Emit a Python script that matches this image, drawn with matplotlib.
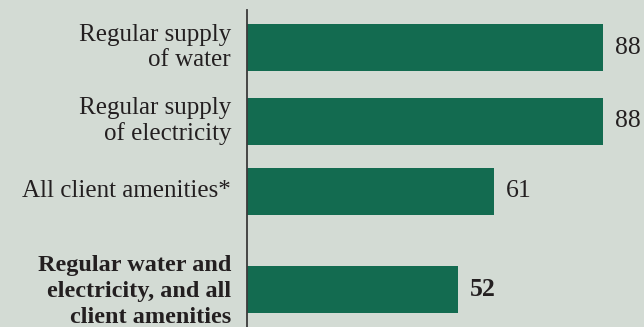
import matplotlib
matplotlib.use("Agg")
import matplotlib.pyplot as plt

# Share of facilities (%) meeting each condition
categories = [
    "Regular supply\nof water",
    "Regular supply\nof electricity",
    "All client amenities*",
    "Regular water and\nelectricity, and all\nclient amenities",
]
values = [88, 88, 61, 52]
value_labels = ["88", "88", "61", "52"]
highlight = [False, False, False, True]

BG = "#d3dbd4"
BAR = "#136b50"
TEXT = "#231f20"

W, H = 644, 327
fig = plt.figure(figsize=(W / 100, H / 100), dpi=100, facecolor=BG)

# axes: left spine at x=247px, top at y=10px, down to the bottom edge
ax = fig.add_axes([247 / W, 0, 1 - 247 / W, (H - 10) / H])
ax.set_facecolor(BG)

ypos = [0, 1.025, 1.995, 3.36]
px_per_unit = 72.0
top_off = (47.5 - 10) / px_per_unit
ax.set_ylim((H - 47.5) / px_per_unit, -top_off)
ax.set_xlim(0, (W - 247) / 4.05)

ax.barh(ypos, values, height=0.655, color=BAR, zorder=2)

for s in ["top", "right", "bottom"]:
    ax.spines[s].set_visible(False)
ax.spines["left"].set_color("#3a3a3a")
ax.spines["left"].set_linewidth(1.3)
ax.set_xticks([])
ax.set_yticks([])

serif = ["Liberation Serif", "DejaVu Serif"]
for y, cat, v, lab, hl in zip(ypos, categories, values, value_labels, highlight):
    ax.annotate(cat, xy=(0, y), xytext=(-11.5, -1.5 if hl else 0),
                textcoords="offset points",
                ha="right", va="center", ma="right",
                fontsize=17.5 if hl else 18,
                family=serif, fontweight="bold" if hl else "normal",
                color=TEXT, linespacing=1.3 if hl else 1.15,
                annotation_clip=False)
    ax.annotate(lab, xy=(v, y), xytext=(8.5, 0), textcoords="offset points",
                ha="left", va="center", fontsize=18.5, family=serif,
                fontweight="bold" if hl else "normal", color=TEXT,
                annotation_clip=False)

fig.savefig("out.png", dpi=100, facecolor=BG)
